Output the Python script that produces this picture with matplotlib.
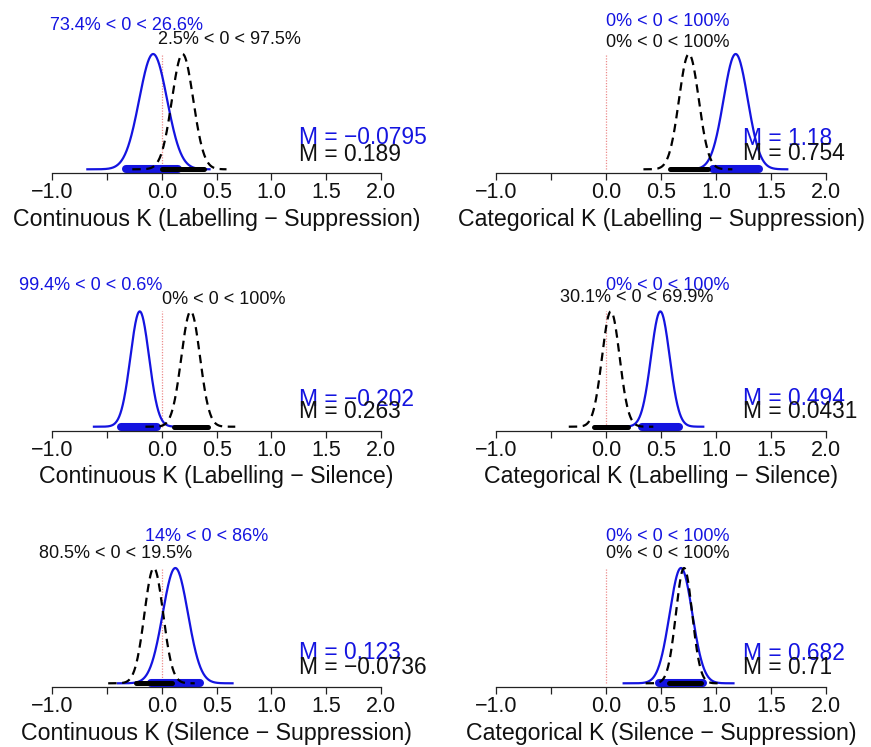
import numpy as np
import matplotlib
matplotlib.use('Agg')
import matplotlib.pyplot as plt

plt.rcParams['font.family'] = ['Liberation Sans', 'DejaVu Sans']

# panel labels, row by row (left, right)
x_labels = ['Continuous K (Labelling \u2212 Suppression)', 'Categorical K (Labelling \u2212 Suppression)',
            'Continuous K (Labelling \u2212 Silence)', 'Categorical K (Labelling \u2212 Silence)',
            'Continuous K (Silence \u2212 Suppression)', 'Categorical K (Silence \u2212 Suppression)']

# blue (solid) posterior in each panel
blue_mean = [-0.0795, 1.18, -0.202, 0.494, 0.123, 0.682]
blue_sd = [0.127, 0.11, 0.085, 0.085, 0.115, 0.103]
blue_lo = [-0.68, 0.70, -0.62, 0.10, -0.40, 0.16]
blue_hi = [0.435, 1.65, 0.20, 0.885, 0.645, 1.16]
blue_hdi_lo = [-0.33, 0.97, -0.37, 0.33, -0.10, 0.48]
blue_hdi_hi = [0.15, 1.39, -0.04, 0.66, 0.35, 0.88]
blue_pct_below = [73.4, 0, 99.4, 0, 14, 0]

# black (dashed) posterior in each panel
black_mean = [0.189, 0.754, 0.263, 0.0431, -0.0736, 0.71]
black_sd = [0.097, 0.09, 0.085, 0.08, 0.085, 0.074]
black_lo = [-0.27, 0.34, -0.15, -0.34, -0.49, 0.36]
black_hi = [0.59, 1.15, 0.67, 0.43, 0.30, 1.05]
black_hdi_lo = [0.0, 0.58, 0.11, -0.11, -0.24, 0.575]
black_hdi_hi = [0.38, 0.93, 0.42, 0.20, 0.095, 0.865]
black_pct_below = [2.5, 0, 0, 30.1, 80.5, 0]

tick_vals = [-1.0, -0.5, 0.0, 0.5, 1.0, 1.5, 2.0]
tick_text = ['\u22121.0', '', '0.0', '0.5', '1.0', '1.5', '2.0']

# layout in pixels
W, H = 871, 747
col_px = [(52.3, 381.0), (496.3, 825.7)]   # pixel x of -1 and 2
row_base = [169.3, 426.7, 683.3]           # pixel y of density 0
unit_y = 115.3                             # pixels per unit of density
xlims = [(-1.45, 2.5), (-1.45, 2.4)]
ylim = (-0.035, 1.45)
pct_blue_y = [144.3, 147.6, 141.7, 141.7, 146.6, 146.6]
pct_black_y = [130, 126.6, 126.7, 129.4, 130, 130]
m_blue_y = [32.3, 31.3, 26.7, 28.4, 30.3, 29.3]
m_black_y = [15.3, 16.3, 15, 15, 15.3, 15.3]

BLUE = '#1414e0'

fig = plt.figure(figsize=(W / 100, H / 100), dpi=100)

def density(mean, sd, lo, hi):
    x = np.linspace(lo, hi, 300)
    return x, np.exp(-0.5 * ((x - mean) / sd) ** 2)

def fmt_num(v):
    return f'{v:g}'.replace('-', '\u2212')

pct_texts = []
for i in range(6):
    r, c = divmod(i, 2)
    x1, x2 = col_px[c]
    sx = (x2 - x1) / 3
    lo, hi = xlims[c]
    left = x1 + (lo + 1) * sx
    right = x1 + (hi + 1) * sx
    bot = row_base[r] - ylim[0] * unit_y
    top = row_base[r] - ylim[1] * unit_y
    ax = fig.add_axes([left / W, 1 - bot / H, (right - left) / W, (bot - top) / H])
    ax.set_xlim(lo, hi)
    ax.set_ylim(*ylim)
    ax.patch.set_alpha(0)
    for s in ['top', 'right', 'left']:
        ax.spines[s].set_visible(False)
    ax.spines['bottom'].set_bounds(-1, 2)
    ax.spines['bottom'].set_color('#222222')
    ax.spines['bottom'].set_linewidth(0.9)
    ax.set_yticks([])
    ax.set_xticks(tick_vals)
    ax.set_xticklabels(tick_text)
    ax.tick_params(axis='x', direction='out', length=5, width=0.9, color='#222222',
                   labelsize=15.5, pad=1.5, labelcolor='#111111')

    ax.plot([0, 0], [0, 1], color='#e04040', lw=0.9, ls=(0, (1, 1.2)), alpha=0.6)

    x, y = density(blue_mean[i], blue_sd[i], blue_lo[i], blue_hi[i])
    ax.plot(x, y, color=BLUE, lw=1.6)
    ax.plot([blue_hdi_lo[i], blue_hdi_hi[i]], [0, 0], color=BLUE, lw=5.8,
            solid_capstyle='round')
    x, y = density(black_mean[i], black_sd[i], black_lo[i], black_hi[i])
    ax.plot(x, y, color='black', lw=1.6, ls=(0, (3.8, 2.5)))
    ax.plot([black_hdi_lo[i], black_hdi_hi[i]], [0, 0], color='black', lw=3.6,
            solid_capstyle='round')

    # mean labels
    ax.text(1.25, m_blue_y[i] / unit_y, 'M = ' + fmt_num(blue_mean[i]), color=BLUE,
            fontsize=16.4, ha='left', va='center', clip_on=False)
    ax.text(1.25, m_black_y[i] / unit_y, 'M = ' + fmt_num(black_mean[i]), color='#111111',
            fontsize=16.4, ha='left', va='center', clip_on=False)

    # percent of posterior below / above zero
    for p, yy, col in [(blue_pct_below[i], pct_blue_y[i], BLUE),
                       (black_pct_below[i], pct_black_y[i], '#111111')]:
        t = ax.text(0, yy / unit_y, f'{p:g}% < 0 < {100 - p:g}%', color=col,
                    fontsize=13, ha='left', va='center', clip_on=False)
        pct_texts.append((t, p / 100, ax))

    ax.text(0.5, -50 / unit_y, x_labels[i], fontsize=16.7, ha='center', va='center',
            color='#111111', clip_on=False)

# place each percent label so that zero sits at the matching fraction of its width
fig.canvas.draw()
rend = fig.canvas.get_renderer()
for t, frac, ax in pct_texts:
    bb = t.get_window_extent(renderer=rend)
    inv = ax.transData.inverted()
    xa = inv.transform((bb.x0, bb.y0))[0]
    xb = inv.transform((bb.x1, bb.y0))[0]
    t.set_x(-frac * (xb - xa))

fig.savefig('out.png', dpi=100, facecolor='white')
